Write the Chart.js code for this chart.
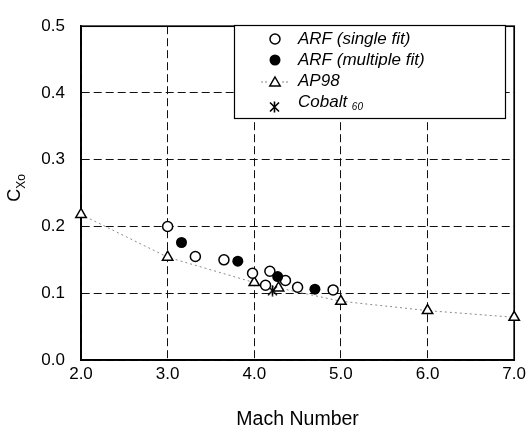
<!DOCTYPE html>
<html>
<head>
<meta charset="utf-8">
<script src="https://cdn.jsdelivr.net/npm/chart.js@4.4.0/dist/chart.umd.min.js"></script>
<style>
  html, body { margin: 0; padding: 0; background: #fff; }
  #wrap { width: 530px; height: 433px; position: relative; }
</style>
</head>
<body>
<div id="wrap"><canvas id="c" width="530" height="433"></canvas></div>
<script>
// Axis ticks
const machTicks = [2.0, 3.0, 4.0, 5.0, 6.0, 7.0];
const cxoTicks = [0.0, 0.1, 0.2, 0.3, 0.4, 0.5];

// ARF (single fit)
const arfSingleMach = [3.00, 3.32, 3.65, 3.98, 4.13, 4.18, 4.36, 4.50, 4.91];
const arfSingleCxo  = [0.200, 0.155, 0.150, 0.130, 0.112, 0.133, 0.119, 0.109, 0.105];

// ARF (multiple fit)
const arfMultiMach = [3.16, 3.81, 4.27, 4.70];
const arfMultiCxo  = [0.176, 0.148, 0.125, 0.106];

// AP98 prediction
const ap98Mach = [2.0, 3.0, 4.0, 4.28, 5.0, 6.0, 7.0];
const ap98Cxo  = [0.218, 0.154, 0.116, 0.108, 0.088, 0.074, 0.064];

// Cobalt 60
const cobaltMach = [4.21];
const cobaltCxo  = [0.104];

const FONT = "'Liberation Sans', Arial, Helvetica, sans-serif";

function pairs(xs, ys) { return xs.map((x, i) => ({ x: x, y: ys[i] })); }

// six-armed asterisk marker
function makeAsterisk(w, h) {
  const c = document.createElement('canvas');
  c.width = w; c.height = h;
  const g = c.getContext('2d');
  g.strokeStyle = '#000';
  g.lineWidth = 1.6;
  g.beginPath();
  g.moveTo(w / 2, 0.5); g.lineTo(w / 2, h - 0.5);
  g.moveTo(1, 1.5); g.lineTo(w - 1, h - 1.5);
  g.moveTo(w - 1, 1.5); g.lineTo(1, h - 1.5);
  g.stroke();
  return c;
}
const asterisk = makeAsterisk(11, 12);

// solid frame around the plotting area
const framePlugin = {
  id: 'frame',
  beforeDatasetsDraw(chart) {
    const { ctx, chartArea: a } = chart;
    ctx.save();
    ctx.strokeStyle = '#000';
    ctx.lineWidth = 1.7;
    ctx.strokeRect(a.left, a.top, a.right - a.left, a.bottom - a.top);
    ctx.restore();
  }
};

// y-axis title C with subscript Xo
const yTitlePlugin = {
  id: 'yTitle',
  afterDraw(chart) {
    const ctx = chart.ctx;
    ctx.save();
    ctx.translate(20, 188);
    ctx.rotate(-Math.PI / 2);
    ctx.fillStyle = '#000';
    ctx.textBaseline = 'alphabetic';
    ctx.font = '18px ' + FONT;
    const wC = ctx.measureText('C').width;
    ctx.font = '12px ' + FONT;
    const wS = ctx.measureText('Xo').width;
    const x0 = -(wC + wS) / 2;
    ctx.font = '18px ' + FONT;
    ctx.fillText('C', x0, 0);
    ctx.font = '12px ' + FONT;
    ctx.fillText('Xo', x0 + wC, 5);
    ctx.restore();
  }
};

// boxed legend in the upper right
const legendPlugin = {
  id: 'boxLegend',
  afterDatasetsDraw(chart) {
    const ctx = chart.ctx;
    const bx = 234, by = 25, bw = 271, bh = 93;
    ctx.save();
    ctx.fillStyle = '#fff';
    ctx.fillRect(bx, by, bw, bh);
    ctx.strokeStyle = '#000';
    ctx.lineWidth = 1.2;
    ctx.strokeRect(bx + 0.5, by + 0.5, bw, bh);

    const mx = 275, tx = 298;
    const rows = [39, 60, 81, 102];

    // open circle
    ctx.beginPath();
    ctx.arc(mx, rows[0], 5, 0, Math.PI * 2);
    ctx.fillStyle = '#fff'; ctx.fill();
    ctx.lineWidth = 1.5; ctx.strokeStyle = '#000'; ctx.stroke();
    // filled circle
    ctx.beginPath();
    ctx.arc(mx, rows[1], 5.5, 0, Math.PI * 2);
    ctx.fillStyle = '#000'; ctx.fill();
    // dotted line with triangle
    ctx.save();
    ctx.strokeStyle = '#888'; ctx.lineWidth = 1; ctx.setLineDash([2, 2]);
    ctx.beginPath();
    ctx.moveTo(261, rows[2] + 1); ctx.lineTo(268, rows[2] + 1);
    ctx.moveTo(282, rows[2] + 1); ctx.lineTo(289, rows[2] + 1);
    ctx.stroke();
    ctx.restore();
    const r = 6, cy = rows[2] + 2;
    ctx.beginPath();
    ctx.moveTo(mx, cy - r);
    ctx.lineTo(mx + r * 0.866, cy + r / 2);
    ctx.lineTo(mx - r * 0.866, cy + r / 2);
    ctx.closePath();
    ctx.fillStyle = '#fff'; ctx.fill();
    ctx.lineWidth = 1.5; ctx.strokeStyle = '#000'; ctx.stroke();
    // asterisk
    ctx.drawImage(asterisk, mx - 6, rows[3] - 1);

    ctx.fillStyle = '#000';
    ctx.textBaseline = 'middle';
    ctx.textAlign = 'left';
    ctx.font = 'italic 17px ' + FONT;
    ctx.fillText('ARF (single fit)', tx, rows[0]);
    ctx.fillText('ARF (multiple fit)', tx, rows[1]);
    ctx.fillText('AP98', tx, rows[2]);
    ctx.fillText('Cobalt', tx, rows[3]);
    const wc = ctx.measureText('Cobalt ').width;
    ctx.font = 'italic 10px ' + FONT;
    ctx.fillText('60', tx + wc, rows[3] + 5);
    ctx.restore();
  }
};

new Chart(document.getElementById('c'), {
  type: 'scatter',
  data: {
    datasets: [
      {
        label: 'ARF (single fit)',
        data: pairs(arfSingleMach, arfSingleCxo),
        pointStyle: 'circle',
        pointRadius: 5,
        pointBackgroundColor: '#fff',
        pointBorderColor: '#000',
        pointBorderWidth: 1.5,
        clip: false,
        order: 1
      },
      {
        label: 'ARF (multiple fit)',
        data: pairs(arfMultiMach, arfMultiCxo),
        pointStyle: 'circle',
        pointRadius: 5.5,
        pointBackgroundColor: '#000',
        pointBorderColor: '#000',
        pointBorderWidth: 0,
        clip: false,
        order: 0
      },
      {
        label: 'AP98',
        data: pairs(ap98Mach, ap98Cxo),
        showLine: true,
        borderColor: '#8a8a8a',
        borderWidth: 1,
        borderDash: [2, 3],
        pointStyle: 'triangle',
        pointRadius: 6,
        pointBackgroundColor: '#fff',
        pointBorderColor: '#000',
        pointBorderWidth: 1.5,
        clip: false,
        order: 3
      },
      {
        label: 'Cobalt 60',
        data: pairs(cobaltMach, cobaltCxo),
        pointStyle: asterisk,
        pointRadius: 6,
        clip: false,
        order: 2
      }
    ]
  },
  options: {
    responsive: false,
    animation: false,
    devicePixelRatio: 1,
    layout: { padding: { left: 0, right: 15, top: 16, bottom: 0 } },
    plugins: { legend: { display: false }, tooltip: { enabled: false } },
    scales: {
      x: {
        type: 'linear',
        min: machTicks[0],
        max: machTicks[machTicks.length - 1],
        afterBuildTicks(scale) { scale.ticks = machTicks.map(v => ({ value: v })); },
        afterFit(scale) { scale.height = 73; },
        ticks: {
          color: '#000',
          font: { family: FONT, size: 17 },
          padding: 4,
          maxRotation: 0,
          callback: v => Number(v).toFixed(1)
        },
        grid: { color: '#111', lineWidth: 1, drawTicks: false },
        border: { display: true, color: '#000', width: 1.7, dash: [8, 4] },
        title: {
          display: true,
          text: 'Mach Number',
          color: '#000',
          font: { family: FONT, size: 19.5 },
          padding: { top: 0, bottom: 2 }
        }
      },
      y: {
        type: 'linear',
        min: cxoTicks[0],
        max: cxoTicks[cxoTicks.length - 1],
        afterBuildTicks(scale) { scale.ticks = cxoTicks.map(v => ({ value: v })); },
        afterFit(scale) { scale.width = 81; },
        ticks: {
          color: '#000',
          font: { family: FONT, size: 17 },
          padding: 16,
          callback: v => Number(v).toFixed(1)
        },
        grid: { color: '#111', lineWidth: 1, drawTicks: false },
        border: { display: true, color: '#000', width: 1.7, dash: [8, 4] }
      }
    }
  },
  plugins: [framePlugin, legendPlugin, yTitlePlugin]
});
</script>
</body>
</html>
